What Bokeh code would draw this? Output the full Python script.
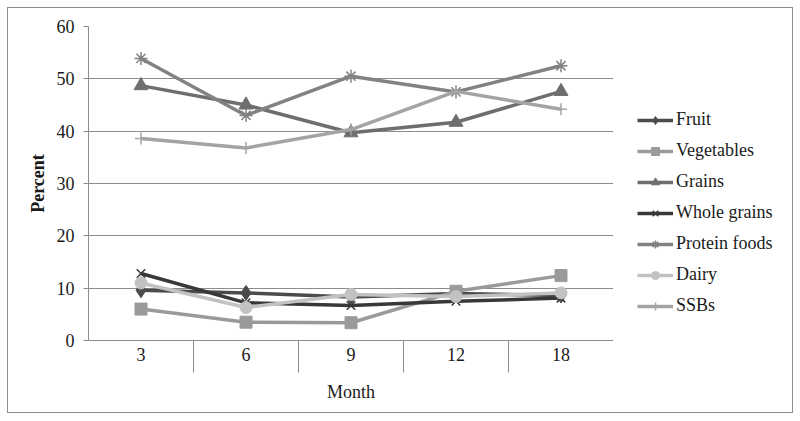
from bokeh.plotting import figure
from bokeh.layouts import row
from bokeh.models import (Range1d, LinearAxis, FixedTicker, Legend, LegendItem, Grid)
from bokeh.embed import file_html
from bokeh.resources import INLINE

months = ["3", "6", "9", "12", "18"]
fruit = [9.6, 9.1, 8.3, 9.0, 8.6]
vegetables = [6.0, 3.5, 3.4, 9.4, 12.4]
grains = [48.7, 45.0, 39.7, 41.7, 47.6]
whole_grains = [12.8, 7.2, 6.7, 7.5, 8.1]
protein_foods = [53.9, 43.0, 50.5, 47.5, 52.5]
dairy = [11.0, 6.3, 8.8, 8.4, 9.1]
ssbs = [38.6, 36.8, 40.3, 47.6, 44.2]
y_ticks = [0, 10, 20, 30, 40, 50, 60]

FONT = "Liberation Serif"
FS = "18px"
GRID = "#8c8c8c"
TXT = "#1a1a1a"
Y_LOW = -12.0   # depth of the category box below the x axis

xs = [i + 0.5 for i in range(len(months))]
bounds = list(range(len(months) + 1))

p = figure(width=605, height=404, output_backend="svg", toolbar_location=None,
           x_range=Range1d(0, len(months)), y_range=Range1d(0, 60),
           x_axis_type=None, y_axis_type=None,
           min_border_left=80, min_border_right=0, min_border_top=18,
           min_border_bottom=72)
p.outline_line_color = None

# y axis (line extended below 0 to close the category box)
yax = LinearAxis(ticker=FixedTicker(ticks=y_ticks, minor_ticks=[]),
                 axis_label="Percent", bounds=(Y_LOW, 60))
yax.axis_line_color = GRID
yax.major_tick_line_color = GRID
yax.major_tick_out = 5
yax.major_tick_in = 0
yax.minor_tick_line_color = None
yax.major_label_standoff = 9
yax.major_label_text_font = FONT
yax.major_label_text_font_size = FS
yax.major_label_text_color = TXT
yax.axis_label_text_font = FONT
yax.axis_label_text_font_size = FS
yax.axis_label_text_font_style = "bold"
yax.axis_label_text_color = TXT
yax.axis_label_standoff = 6
p.add_layout(yax, "left")

# right end of category box
rax = LinearAxis(ticker=FixedTicker(ticks=[], minor_ticks=[]), bounds=(Y_LOW, 0))
rax.axis_line_color = GRID
rax.major_tick_line_color = None
rax.minor_tick_line_color = None
rax.major_tick_out = 0
rax.major_tick_in = 0
rax.major_label_standoff = 0
rax.major_label_text_font_size = "1px"
p.add_layout(rax, "right")

# horizontal grid
g = Grid(dimension=1, ticker=FixedTicker(ticks=y_ticks))
g.grid_line_color = GRID
g.grid_line_width = 1
p.add_layout(g)

# x axis with category labels and separators
xax = LinearAxis(ticker=FixedTicker(ticks=xs, minor_ticks=bounds[1:-1]),
                 axis_label="Month",
                 major_label_overrides={x: m for x, m in zip(xs, months)})
xax.axis_line_color = GRID
xax.major_tick_line_color = None
xax.major_tick_out = 0
xax.major_tick_in = 0
xax.minor_tick_line_color = GRID
xax.minor_tick_out = 32
xax.minor_tick_in = 0
xax.major_label_standoff = -25
xax.major_label_text_font = FONT
xax.major_label_text_font_size = FS
xax.major_label_text_color = TXT
xax.axis_label_text_font = FONT
xax.axis_label_text_font_size = FS
xax.axis_label_text_font_style = "normal"
xax.axis_label_text_color = TXT
xax.axis_label_standoff = 18
p.add_layout(xax, "below")

series = [
    ("Fruit", fruit, "#4b4b4b", "diamond", 15),
    ("Vegetables", vegetables, "#9a9a9a", "square", 12),
    ("Grains", grains, "#6e6e6e", "triangle", 14),
    ("Whole grains", whole_grains, "#383838", "x", 12),
    ("Protein foods", protein_foods, "#828282", "asterisk", 13),
    ("Dairy", dairy, "#c2c2c2", "circle", 12),
    ("SSBs", ssbs, "#a4a4a4", "cross", 12),
]

# legend panel: its own small figure; its ranges keep its copies of the
# series out of view so that only the legend shows
lf = figure(width=179, height=404, output_backend="svg", toolbar_location=None,
            x_range=Range1d(-20, -10), y_range=Range1d(-20, -10),
            x_axis_type=None, y_axis_type=None,
            min_border_left=0, min_border_right=0, min_border_top=0,
            min_border_bottom=0)
lf.outline_line_color = None
lf.xgrid.visible = False
lf.ygrid.visible = False


def draw(fig, xv, yv, col, mk, sz):
    r1 = fig.line(xv, yv, line_color=col, line_width=3.5)
    if mk in ("x", "asterisk", "cross"):
        r2 = fig.scatter(xv, yv, marker=mk, size=sz, line_color=col,
                         line_width=1.5, fill_color=None)
    else:
        r2 = fig.scatter(xv, yv, marker=mk, size=sz, line_color=col,
                         fill_color=col)
    return r1, r2


items = []
for name, vals, col, mk, sz in series:
    draw(p, xs, vals, col, mk, sz)
    l1, l2 = draw(lf, xs, vals, col, mk, sz)
    items.append(LegendItem(label=name, renderers=[l1, l2]))

legend = Legend(items=items, location=(24, 24))
legend.glyph_width = 36
legend.glyph_height = 20
legend.spacing = 10
legend.padding = 0
legend.margin = 0
legend.label_standoff = 3
legend.border_line_color = None
legend.background_fill_alpha = 0
legend.label_text_font = FONT
legend.label_text_font_size = FS
legend.label_text_color = TXT
legend.label_height = 20
lf.add_layout(legend, "center")

layout = row(p, lf, spacing=0)
layout.styles = {"border": "1px solid #8c8c8c", "margin-left": "7px", "margin-top": "7px"}

open("out.html", "w").write(file_html(layout, INLINE))
